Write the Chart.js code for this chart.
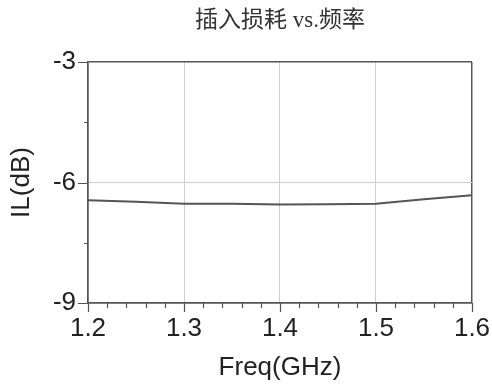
<!DOCTYPE html>
<html>
<head>
<meta charset="utf-8">
<script src="https://cdn.jsdelivr.net/npm/chart.js@4/dist/chart.umd.min.js"></script>
<style>
  html, body { margin: 0; padding: 0; background: #fff; }
  #wrap { width: 492px; height: 385px; }
</style>
</head>
<body>
<div id="wrap"><canvas id="myChart" width="492" height="385"></canvas></div>
<script>
// data
var freq = [1.2, 1.25, 1.3, 1.35, 1.4, 1.45, 1.5, 1.55, 1.6];
var il = [-6.44, -6.48, -6.53, -6.53, -6.55, -6.54, -6.53, -6.42, -6.32];
var xMinor = [1.22, 1.24, 1.26, 1.28, 1.32, 1.34, 1.36, 1.38, 1.42, 1.44, 1.46, 1.48, 1.52, 1.54, 1.56, 1.58];
var yMinor = [-4.5, -7.5];
var xMajor = [1.2, 1.3, 1.4, 1.5, 1.6];
var yMajor = [-9, -6, -3];

var points = freq.map(function (f, i) { return { x: f, y: il[i] }; });

// tick marks drawn outward, long for major and short for minor
var tickMarks = {
  id: 'tickMarks',
  afterDraw: function (chart) {
    var ctx = chart.ctx;
    var xs = chart.scales.x, ys = chart.scales.y;
    var a = chart.chartArea;
    ctx.save();
    ctx.strokeStyle = '#555';
    ctx.lineWidth = 1.2;
    ctx.beginPath();
    xMajor.forEach(function (v) {
      var p = Math.round(xs.getPixelForValue(v)) + 0.5;
      ctx.moveTo(p, a.bottom); ctx.lineTo(p, a.bottom + 9);
    });
    xMinor.forEach(function (v) {
      var p = Math.round(xs.getPixelForValue(v)) + 0.5;
      ctx.moveTo(p, a.bottom); ctx.lineTo(p, a.bottom + 5);
    });
    yMajor.forEach(function (v) {
      var p = Math.round(ys.getPixelForValue(v)) + 0.5;
      ctx.moveTo(a.left, p); ctx.lineTo(a.left - 10, p);
    });
    yMinor.forEach(function (v) {
      var p = Math.round(ys.getPixelForValue(v)) + 0.5;
      ctx.moveTo(a.left, p); ctx.lineTo(a.left - 4, p);
    });
    ctx.stroke();
    ctx.restore();
  }
};

function gridColor(edgeVals) {
  return function (c) {
    var v = c.tick ? Math.round(c.tick.value * 100) / 100 : null;
    return edgeVals.indexOf(v) >= 0 ? '#555' : '#cfcfcf';
  };
}
function gridWidth(edgeVals) {
  return function (c) {
    var v = c.tick ? Math.round(c.tick.value * 100) / 100 : null;
    return edgeVals.indexOf(v) >= 0 ? 1.5 : 1;
  };
}

new Chart('myChart', {
  type: 'line',
  data: {
    datasets: [{
      data: points,
      borderColor: '#555',
      borderWidth: 2,
      pointRadius: 0,
      tension: 0,
      fill: false
    }]
  },
  options: {
    responsive: false,
    animation: false,
    layout: { padding: { left: 0, right: 20, top: 0, bottom: 0 } },
    plugins: {
      legend: { display: false },
      tooltip: { enabled: false },
      title: {
        display: true,
        text: '插入损耗 vs.频率',
        fullSize: false,
        color: '#333',
        font: { family: 'Liberation Serif, "Noto Sans CJK SC", serif', size: 23, weight: 'normal' },
        padding: { top: 7, bottom: 27.4 }
      }
    },
    scales: {
      x: {
        type: 'linear',
        min: 1.2,
        max: 1.6,
        afterFit: function (s) { s.height = 82; s.paddingLeft = 0; s.paddingRight = 0; },
        border: { display: true, color: '#555', width: 1.5 },
        grid: { drawTicks: false, color: gridColor([1.2, 1.6]), lineWidth: gridWidth([1.2, 1.6]) },
        ticks: {
          stepSize: 0.1,
          padding: 10,
          color: '#222',
          font: { family: 'Liberation Sans, Arial, sans-serif', size: 26 },
          callback: function (v) { return (Math.round(v * 10) / 10).toFixed(1); }
        },
        title: {
          display: true,
          text: 'Freq(GHz)',
          color: '#222',
          font: { family: 'Liberation Sans, Arial, sans-serif', size: 26 },
          padding: { top: 0, bottom: 2 }
        }
      },
      y: {
        min: -9,
        max: -3,
        afterFit: function (s) { s.width = 88; },
        border: { display: true, color: '#555', width: 1.5 },
        grid: { drawTicks: false, color: gridColor([-9, -3]), lineWidth: gridWidth([-9, -3]) },
        ticks: {
          stepSize: 3,
          padding: 12,
          color: '#222',
          font: { family: 'Liberation Sans, Arial, sans-serif', size: 26 }
        },
        title: {
          display: true,
          text: 'IL(dB)',
          color: '#222',
          font: { family: 'Liberation Sans, Arial, sans-serif', size: 26 },
          padding: { top: 6, bottom: 0 }
        }
      }
    }
  },
  plugins: [tickMarks]
});
</script>
</body>
</html>
